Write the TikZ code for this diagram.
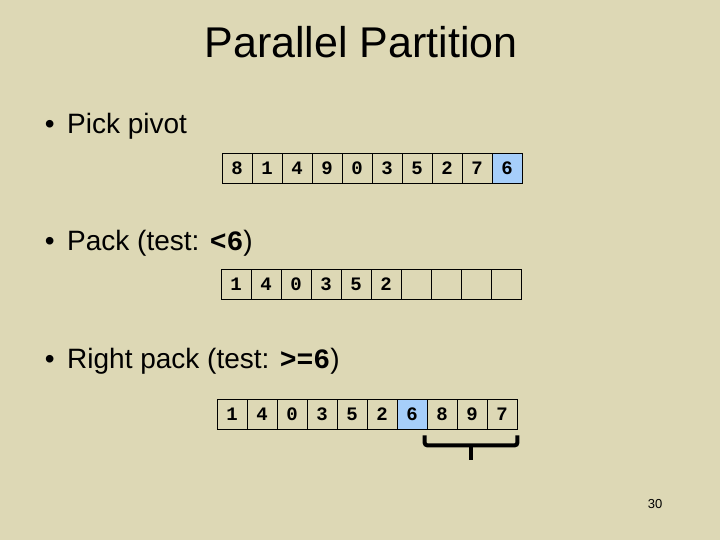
\documentclass[tikz,border=0pt]{standalone}
\usepackage{fontspec}
\setmainfont{Liberation Sans}
\setmonofont{Liberation Mono}
\usepackage{tikz}
\usetikzlibrary{positioning, calc}
\definecolor{sfondo}{RGB}{221,216,181}
\definecolor{pivot}{RGB}{166,206,250}
\newcommand{\tst}[1]{\textbf{\texttt{#1}}}

\begin{document}
\begin{tikzpicture}[x = 1pt, y = -1pt,
    cella/.style = {draw, line width = 0.9pt, minimum width = 30pt, minimum height = 30pt,
                    inner sep = 0pt, text height = 13pt, text depth = 0pt,
                    font = \fontsize{19}{19}\selectfont\ttfamily\bfseries},
    voce/.style = {anchor = base west, inner sep = 0pt, font = \fontsize{28}{28}\selectfont}]
    % Parametri
    \pgfmathsetmacro{\lato}{30}
    % Sfondo
    \fill[sfondo] (0,0) rectangle (720,540);
    \useasboundingbox (0,0) rectangle (720,540);
    % Titolo
    \node[inner sep = 0pt, anchor = base, font = \fontsize{43}{43}\selectfont] (titolo) at (361,58) {Parallel Partition};
    % Voci
    \node[voce] (v1) at (67,134) {Pick pivot};
    \node[voce] (v2) at (67,250) {Pack (test: \tst{<6})};
    \node[voce] (v3) at (67,368) {Right pack (test: \tst{>=6})};
    \foreach \v in {v1,v2,v3}{
        \node[voce, anchor = base east] at ([xshift = -12pt]\v.base west) {\textbullet};
    }
    % Prima riga
    \foreach \c [count = \i] in {8,1,4,9,0,3,5,2,7,6}{
        \node[cella] (a\i) at ({222 + \lato*(\i - 0.5)}, 168) {\c};
    }
    \fill[pivot] (a10.south west) rectangle (a10.north east);
    \node[cella] at (a10) {6};
    % Seconda riga
    \foreach \c [count = \i] in {1,4,0,3,5,2,{},{},{},{}}{
        \node[cella] (b\i) at ({221 + \lato*(\i - 0.5)}, 284) {\c};
    }
    % Terza riga
    \foreach \c [count = \i] in {1,4,0,3,5,2,6,8,9,7}{
        \node[cella] (c\i) at ({217 + \lato*(\i - 0.5)}, 414) {\c};
    }
    \fill[pivot] (c7.south west) rectangle (c7.north east);
    \node[cella] at (c7) {6};
    % Graffa
    \coordinate (gs) at ($(c8.south west) + (-2,6)$);
    \coordinate (gd) at ($(c10.south east) + (0,6)$);
    \coordinate (gm) at ($(gs)!0.5!(gd) + (0,10)$);
    \draw[line width = 4pt, rounded corners = 3pt] (gs) |- (gm) -| (gd);
    \draw[line width = 4pt] (gm) -- ++(0,15);
    % Numero pagina
    \node[inner sep = 0pt, anchor = base, font = \fontsize{13}{13}\selectfont] (pag) at (655,508) {30};
\end{tikzpicture}
\end{document}
